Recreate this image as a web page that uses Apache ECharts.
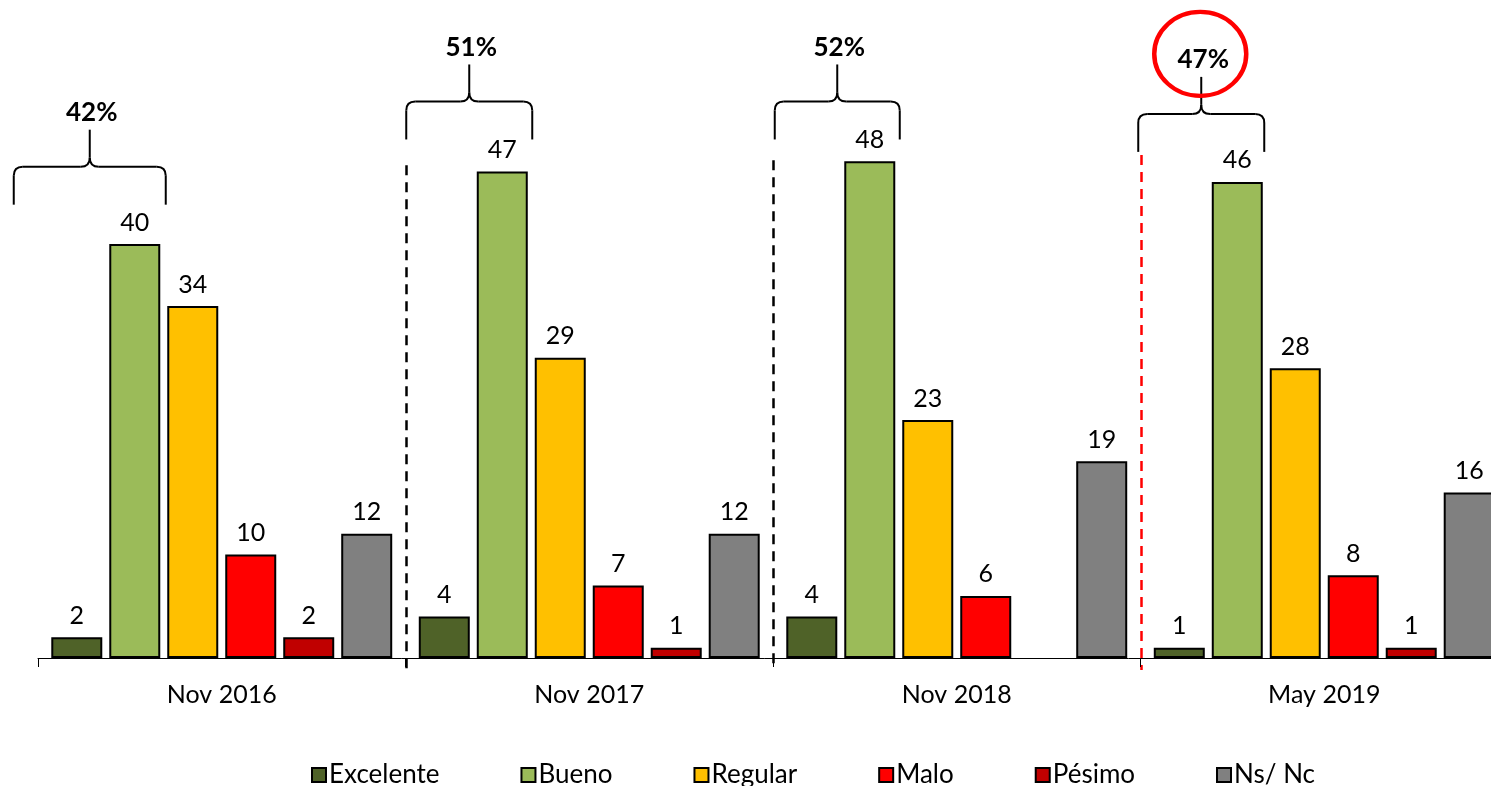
<!DOCTYPE html>
<html>
<head>
<meta charset="utf-8">
<script src="https://cdn.jsdelivr.net/npm/echarts@6/dist/echarts.min.js"></script>
<style>html,body{margin:0;padding:0;background:#fff}#c{width:1491px;height:786px}</style>
</head>
<body>
<div id="c"></div>
<script>
const categories = ['Nov 2016', 'Nov 2017', 'Nov 2018', 'May 2019'];
const seriesNames = ['Excelente', 'Bueno', 'Regular', 'Malo', 'Pésimo', 'Ns/ Nc'];
const excelente = [2, 4, 4, 1];
const bueno = [40, 47, 48, 46];
const regular = [34, 29, 23, 28];
const malo = [10, 7, 6, 8];
const pesimo = [2, 1, null, 1];
const nsnc = [12, 12, 19, 16];
const colors = ['#4F6228', '#9BBB59', '#FFC000', '#FF0000', '#C00000', '#808080'];

const FONT = 'Lato, "Open Sans", sans-serif';
const allValues = [excelente, bueno, regular, malo, pesimo, nsnc];

const chart = echarts.init(document.getElementById('c'), null, { renderer: 'canvas' });
chart.setOption({
  animation: false,
  backgroundColor: '#fff',
  grid: { left: 38, width: 1470, top: 37, bottom: 128, containLabel: false, outerBoundsMode: 'none' },
  xAxis: {
    type: 'category',
    data: categories,
    axisLine: { lineStyle: { color: '#000', width: 1 } },
    axisTick: { show: true, length: 9, lineStyle: { color: '#000' } },
    axisLabel: { color: '#000', fontFamily: FONT, fontSize: 25, margin: 24 }
  },
  yAxis: { type: 'value', min: 0, max: 60, show: false, splitLine: { show: false } },
  legend: {
    left: 306, top: 757,
    itemWidth: 14, itemHeight: 14, itemGap: 81,
    icon: 'rect',
    textStyle: { color: '#000', fontFamily: FONT, fontSize: 26, padding: [0, 0, 0, -2] },
    data: seriesNames
  },
  series: seriesNames.map((n, i) => ({
    name: n,
    type: 'bar',
    data: allValues[i],
    barWidth: 51,
    barGap: '13.7%',
    itemStyle: { color: colors[i], borderColor: '#000', borderWidth: 2 },
    label: { show: true, position: 'top', distance: 9, color: '#000', fontFamily: FONT, fontSize: 25 }
  }))
});

// Annotation layout (pixels relative to category centre; brace base as y-value)
const braceLayout = [
  { l: -208, r: -56, base: 43.8 },
  { l: -183, r: -57, base: 50.1 },
  { l: -182, r: -57, base: 50.1 },
  { l: -186, r: -60, base: 48.9 }
];
const dividerTops = [null, 47.6, 48.1, 48.6];
const dividerColors = [null, '#000', '#000', '#FF0000'];

const cx = categories.map(c => chart.convertToPixel({ xAxisIndex: 0 }, c));
const band = cx[1] - cx[0];
const yPix = v => chart.convertToPixel({ yAxisIndex: 0 }, v);
const baseY = yPix(0);
const els = [];
const ls = { stroke: '#000', lineWidth: 2, fill: null };

categories.forEach((c, i) => {
  const b = braceLayout[i];
  const L = cx[i] + b.l, R = cx[i] + b.r, M = (L + R) / 2;
  const B = yPix(b.base), H = B - 38, T = B - 75, rr = 9;
  els.push({ type: 'line', shape: { x1: L, y1: B, x2: L, y2: H + rr }, style: ls, silent: true });
  els.push({ type: 'bezierCurve', shape: { x1: L, y1: H + rr, cpx1: L, cpy1: H, x2: L + rr, y2: H }, style: ls, silent: true });
  els.push({ type: 'line', shape: { x1: L + rr, y1: H, x2: M - rr, y2: H }, style: ls, silent: true });
  els.push({ type: 'bezierCurve', shape: { x1: M - rr, y1: H, cpx1: M, cpy1: H, x2: M, y2: H - rr }, style: ls, silent: true });
  els.push({ type: 'line', shape: { x1: M, y1: H - rr, x2: M, y2: T }, style: ls, silent: true });
  els.push({ type: 'bezierCurve', shape: { x1: M, y1: H - rr, cpx1: M, cpy1: H, x2: M + rr, y2: H }, style: ls, silent: true });
  els.push({ type: 'line', shape: { x1: M + rr, y1: H, x2: R - rr, y2: H }, style: ls, silent: true });
  els.push({ type: 'bezierCurve', shape: { x1: R - rr, y1: H, cpx1: R, cpy1: H, x2: R, y2: H + rr }, style: ls, silent: true });
  els.push({ type: 'line', shape: { x1: R, y1: H + rr, x2: R, y2: B }, style: ls, silent: true });
  const tx = M + 2, ty = T - 17;
  els.push({
    type: 'text', x: tx, y: ty, silent: true,
    style: { text: (excelente[i] + bueno[i]) + '%', font: 'bold 26px ' + FONT, fill: '#000',
      textAlign: 'center', textVerticalAlign: 'middle', align: 'center', verticalAlign: 'middle' }
  });
  if (i === 3) {
    els.push({
      type: 'circle', x: tx - 3, y: ty - 6, scaleY: 42 / 46, silent: true,
      shape: { cx: 0, cy: 0, r: 46 },
      style: { stroke: '#FF0000', lineWidth: 4.5, fill: null }
    });
  }
  if (dividerTops[i] !== null) {
    const x = Math.round(cx[i] - band / 2) + 0.5;
    els.push({
      type: 'line', silent: true,
      shape: { x1: x, y1: yPix(dividerTops[i]), x2: x, y2: baseY + 12 },
      style: { stroke: dividerColors[i], lineWidth: 2.5, lineDash: [10, 7] }
    });
  }
});
chart.setOption({ graphic: { elements: els } });
</script>
</body>
</html>
